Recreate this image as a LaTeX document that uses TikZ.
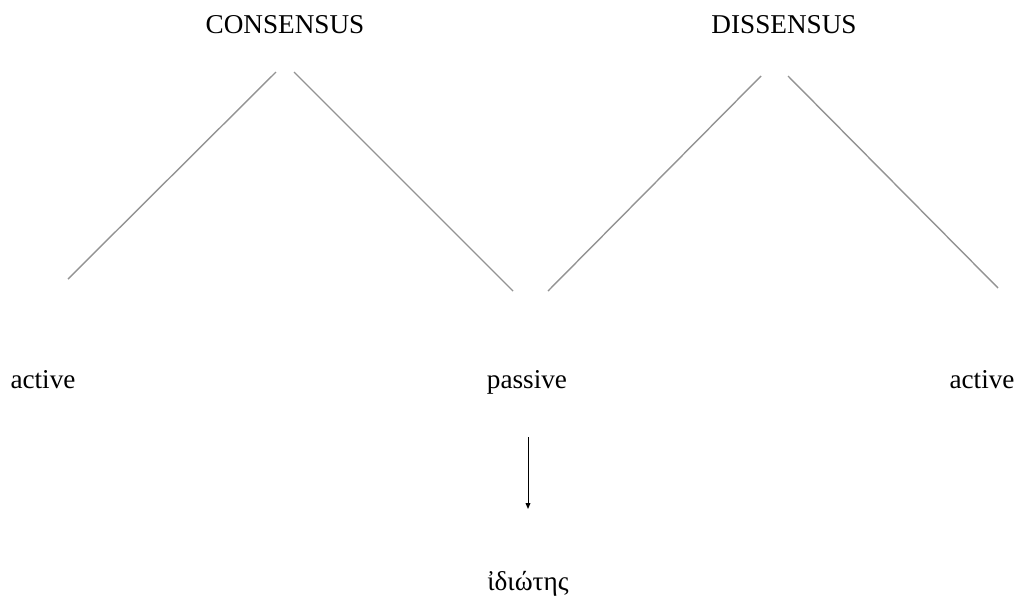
\documentclass[tikz,border=0pt]{standalone}
\usepackage{fontspec}
\setmainfont{Liberation Serif}
\usepackage{tikz}
\usetikzlibrary{arrows.meta,positioning}

\begin{document}
\begin{tikzpicture}[x=0.5pt, y=-0.5pt,
    term/.style={font=\fontsize{13.6}{16}\selectfont, inner sep=0pt, anchor=base},
    branch/.style={draw=gray!85, line width=0.7pt}]
  \useasboundingbox (0,0) rectangle (1021,601);

  % Heads
  \node[term] (cons) at (285,33) {CONSENSUS};
  \node[term] (diss) at (784,33) {DISSENSUS};

  % Leaves
  \node[term] (actl) at (43,388)  {active};
  \node[term] (pass) at (527,388) {passive};
  \node[term] (actr) at (982,388) {active};
  \node[term] (idio) at (528,590) {ἰδιώτης};

  % Branch ends
  \coordinate (c1) at (276,72);  \coordinate (c1e) at (68,279);
  \coordinate (c2) at (294,72);  \coordinate (c2e) at (513,291);
  \coordinate (d1) at (761,76);  \coordinate (d1e) at (548,291);
  \coordinate (d2) at (788,76);  \coordinate (d2e) at (998,288);
  \coordinate (p1) at (528,437); \coordinate (p2) at (528,509);

  % Branches
  \draw[branch] (c1) -- (c1e);
  \draw[branch] (c2) -- (c2e);
  \draw[branch] (d1) -- (d1e);
  \draw[branch] (d2) -- (d2e);

  % Arrow
  \draw[line width=0.5pt, -{Triangle[length=3pt,width=2.4pt]}] (p1) -- (p2);

\end{tikzpicture}
\end{document}
